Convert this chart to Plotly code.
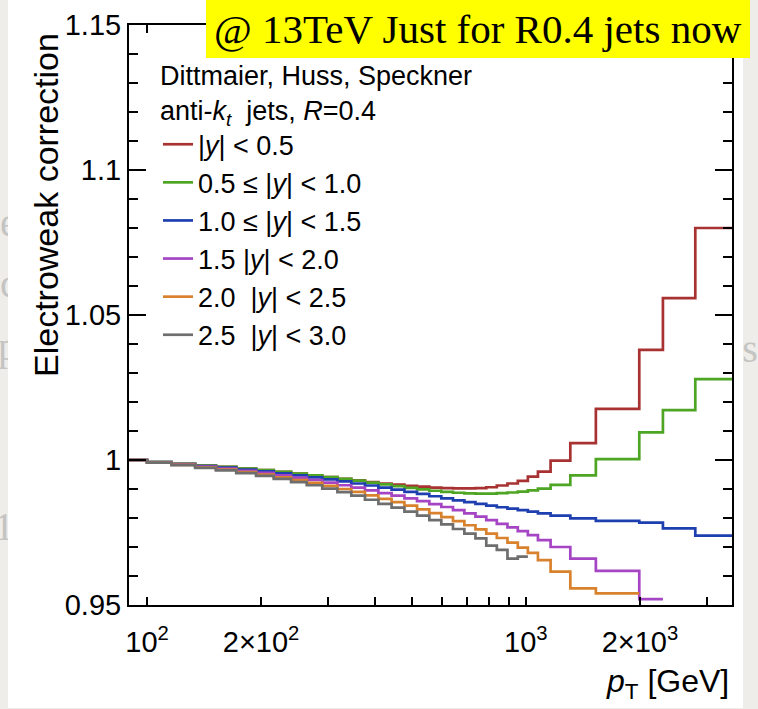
import math
import plotly.graph_objects as go

# ---- data: electroweak correction factors per pT bin ----
pt_edges = [85, 100, 116, 134, 152, 172, 194, 216, 240, 264, 290, 318, 346, 376,
            408, 442, 478, 516, 556, 598, 642, 688, 736, 786, 838, 894, 952, 1012,
            1076, 1162, 1310, 1530, 1992, 2300, 2800, 3500]

corr_y00_05 = [1.0000, 0.9993, 0.9987, 0.9981, 0.9976, 0.9970, 0.9965, 0.9959, 0.9953,
               0.9947, 0.9941, 0.9935, 0.9930, 0.9924, 0.9919, 0.9915, 0.9911, 0.9908,
               0.9905, 0.9903, 0.9902, 0.9902, 0.9903, 0.9906, 0.9912, 0.9919, 0.9928,
               0.9943, 0.9960, 0.9998, 1.0058, 1.0176, 1.0380, 1.0558, 1.0800]
corr_y05_10 = [1.0000, 0.9993, 0.9987, 0.9981, 0.9976, 0.9970, 0.9965, 0.9959, 0.9953,
               0.9947, 0.9941, 0.9935, 0.9929, 0.9922, 0.9916, 0.9910, 0.9904, 0.9899,
               0.9894, 0.9890, 0.9887, 0.9885, 0.9884, 0.9884, 0.9886, 0.9888, 0.9891,
               0.9895, 0.9901, 0.9914, 0.9947, 1.0003, 1.0095, 1.0172, 1.0279]
corr_y10_15 = [1.0000, 0.9993, 0.9986, 0.9979, 0.9974, 0.9967, 0.9961, 0.9954, 0.9947,
               0.9940, 0.9933, 0.9926, 0.9919, 0.9912, 0.9905, 0.9898, 0.9890, 0.9883,
               0.9875, 0.9868, 0.9861, 0.9855, 0.9849, 0.9843, 0.9837, 0.9832, 0.9827,
               0.9822, 0.9816, 0.9808, 0.9799, 0.9790, 0.9784, 0.9764, 0.9739]
corr_y15_20 = [1.0000, 0.9992, 0.9985, 0.9977, 0.9970, 0.9963, 0.9956, 0.9947, 0.9939,
               0.9931, 0.9922, 0.9913, 0.9905, 0.9895, 0.9886, 0.9877, 0.9868, 0.9858,
               0.9848, 0.9838, 0.9827, 0.9816, 0.9805, 0.9793, 0.9780, 0.9768, 0.9755,
               0.9741, 0.9724, 0.9700, 0.9660, 0.9618, 0.9520]
corr_y20_25 = [1.0000, 0.9991, 0.9983, 0.9975, 0.9967, 0.9958, 0.9950, 0.9940, 0.9931,
               0.9921, 0.9911, 0.9900, 0.9890, 0.9878, 0.9866, 0.9855, 0.9843, 0.9830,
               0.9817, 0.9803, 0.9789, 0.9775, 0.9761, 0.9746, 0.9731, 0.9715, 0.9698,
               0.9680, 0.9655, 0.9615, 0.9557, 0.9540]
corr_y25_30 = [1.0000, 0.9991, 0.9982, 0.9973, 0.9964, 0.9955, 0.9945, 0.9935, 0.9924,
               0.9913, 0.9901, 0.9889, 0.9877, 0.9863, 0.9849, 0.9836, 0.9822, 0.9808,
               0.9793, 0.9778, 0.9762, 0.9746, 0.9730, 0.9705, 0.9690, 0.9660, 0.9667]

series_names = ["|<i>y</i>| < 0.5", "0.5 ≤ |<i>y</i>| < 1.0", "1.0 ≤ |<i>y</i>| < 1.5",
                "1.5 |<i>y</i>| < 2.0", "2.0  |<i>y</i>| < 2.5", "2.5  |<i>y</i>| < 3.0"]
series_values = [corr_y00_05, corr_y05_10, corr_y10_15, corr_y15_20, corr_y20_25, corr_y25_30]
series_colors = ["#a83232", "#4ea524", "#1e3fb0", "#a545c4", "#d9822e", "#6e6e6e"]

x_tick_vals = [100, 200, 1000, 2000]
x_tick_text = ["10<sup>2</sup>", "2×10<sup>2</sup>", "10<sup>3</sup>", "2×10<sup>3</sup>"]
x_major_vals = [100, 1000]
x_minor_vals = [300, 400, 500, 600, 700, 800, 900, 3000]
y_tick_vals = [0.95, 1.0, 1.05, 1.1, 1.15]
y_tick_text = ["0.95", "1", "1.05", "1.1", "1.15"]

# ---- page geometry (pixels) ----
W, H = 758, 709
FL, FR, FT, FB = 129, 732, 25, 605        # plot frame
PANEL_L, PANEL_R, PANEL_B = 8, 743, 708    # white sheet behind the plot

def px(x):
    return x / W

def py(y):
    return (H - y) / H

SANS = "Liberation Sans, Arial, sans-serif"
SERIF = "Liberation Serif, Times New Roman, serif"
x_range = [math.log10(89.6), math.log10(3500)]

fig = go.Figure()

for name, vals, color in zip(series_names, series_values, series_colors):
    n = len(vals)
    fig.add_trace(go.Scatter(
        x=pt_edges[:n + 1], y=vals + [vals[-1]],
        mode="lines", name=name,
        line=dict(color=color, width=2.7, shape="hv"),
        xaxis="x", yaxis="y",
    ))

# faint letters of the slide peeking out at the sheet edges
fig.add_trace(go.Scatter(
    x=[9, 9, 8, 4], y=[226, 287, 350, 530], text=["e", "c", "p", "1"],
    mode="text", textfont=dict(family=SERIF, size=40, color="#c4c4c2"),
    cliponaxis=True, showlegend=False, hoverinfo="skip",
    xaxis="x3", yaxis="y3",
))
fig.add_trace(go.Scatter(
    x=[750], y=[352], text=["s"],
    mode="text", textfont=dict(family=SERIF, size=40, color="#c4c4c2"),
    cliponaxis=True, showlegend=False, hoverinfo="skip",
    xaxis="x4", yaxis="y4",
))

axis_common = dict(showgrid=False, zeroline=False, tickcolor="black", tickwidth=1.6)

fig.update_layout(
    width=W, height=H,
    margin=dict(l=0, r=0, t=0, b=0, autoexpand=False),
    paper_bgcolor="#eeede9",
    plot_bgcolor="rgba(0,0,0,0)",
    showlegend=True,
    xaxis=dict(
        type="log", range=x_range, domain=[px(FL), px(FR)], anchor="y",
        tickmode="array", tickvals=x_tick_vals, ticktext=x_tick_text,
        ticks="inside", ticklen=8, showline=True, linecolor="black", linewidth=2,
        mirror="ticks", ticklabelstandoff=10,
        minor=dict(tickmode="array", tickvals=x_minor_vals, ticks="inside",
                   ticklen=8, tickcolor="black", tickwidth=1.6),
        tickfont=dict(family=SANS, size=29, color="black"),
        **axis_common,
    ),
    xaxis2=dict(
        type="log", range=x_range, domain=[px(FL), px(FR)], anchor="y",
        overlaying="x", side="bottom",
        tickmode="array", tickvals=x_major_vals, ticks="inside", ticklen=17,
        showticklabels=False, showline=False, mirror="ticks",
        **axis_common,
    ),
    yaxis=dict(
        range=[0.95, 1.15], domain=[py(FB), py(FT)], anchor="x",
        tickmode="array", tickvals=y_tick_vals, ticktext=y_tick_text,
        ticks="inside", ticklen=17, showline=True, linecolor="black", linewidth=2,
        mirror="ticks",
        minor=dict(dtick=0.01, ticks="inside", ticklen=9, tickcolor="black",
                   tickwidth=1.6),
        tickfont=dict(family=SANS, size=29, color="black"),
        **axis_common,
    ),
    xaxis3=dict(range=[0, PANEL_L], domain=[0, px(PANEL_L)], anchor="y3",
                visible=False, fixedrange=True),
    yaxis3=dict(range=[H, 0], domain=[0, 1], anchor="x3", visible=False),
    xaxis4=dict(range=[PANEL_R, W], domain=[px(PANEL_R), 1], anchor="y4",
                visible=False),
    yaxis4=dict(range=[H, 0], domain=[0, 1], anchor="x4", visible=False),
    legend=dict(
        x=px(158), y=py(50), xanchor="left", yanchor="top",
        bgcolor="rgba(0,0,0,0)", borderwidth=0,
        font=dict(family=SANS, size=27, color="black"),
        title=dict(text="Dittmaier, Huss, Speckner<br>anti-<i>k</i><sub><i>t</i></sub>  jets, <i>R</i>=0.4",
                   font=dict(family=SANS, size=27, color="black")),
        itemwidth=30, tracegroupgap=0,
    ),
    shapes=[
        dict(type="rect", xref="paper", yref="paper", layer="below",
             x0=px(PANEL_L), x1=px(PANEL_R), y0=py(PANEL_B), y1=1,
             fillcolor="white", line=dict(width=0)),
        dict(type="rect", xref="paper", yref="paper", layer="above",
             x0=px(206), x1=px(750), y0=py(58), y1=1,
             fillcolor="#ffff00", line=dict(width=0)),
    ],
    annotations=[
        dict(text="@ 13TeV Just for R0.4 jets now", xref="paper", yref="paper",
             x=px(478), y=py(29), xanchor="center", yanchor="middle",
             showarrow=False, font=dict(family=SERIF, size=41, color="black")),
        dict(text="Electroweak correction", xref="paper", yref="paper",
             x=px(46), y=py(31), xanchor="center", yanchor="top", textangle=-90,
             showarrow=False, font=dict(family=SANS, size=34, color="black")),
        dict(text="<i>p</i><sub>T</sub> [GeV]", xref="paper", yref="paper",
             x=px(731), y=py(683), xanchor="right", yanchor="middle",
             showarrow=False, font=dict(family=SANS, size=32, color="black")),
    ],
)

fig.write_html("out.html")
